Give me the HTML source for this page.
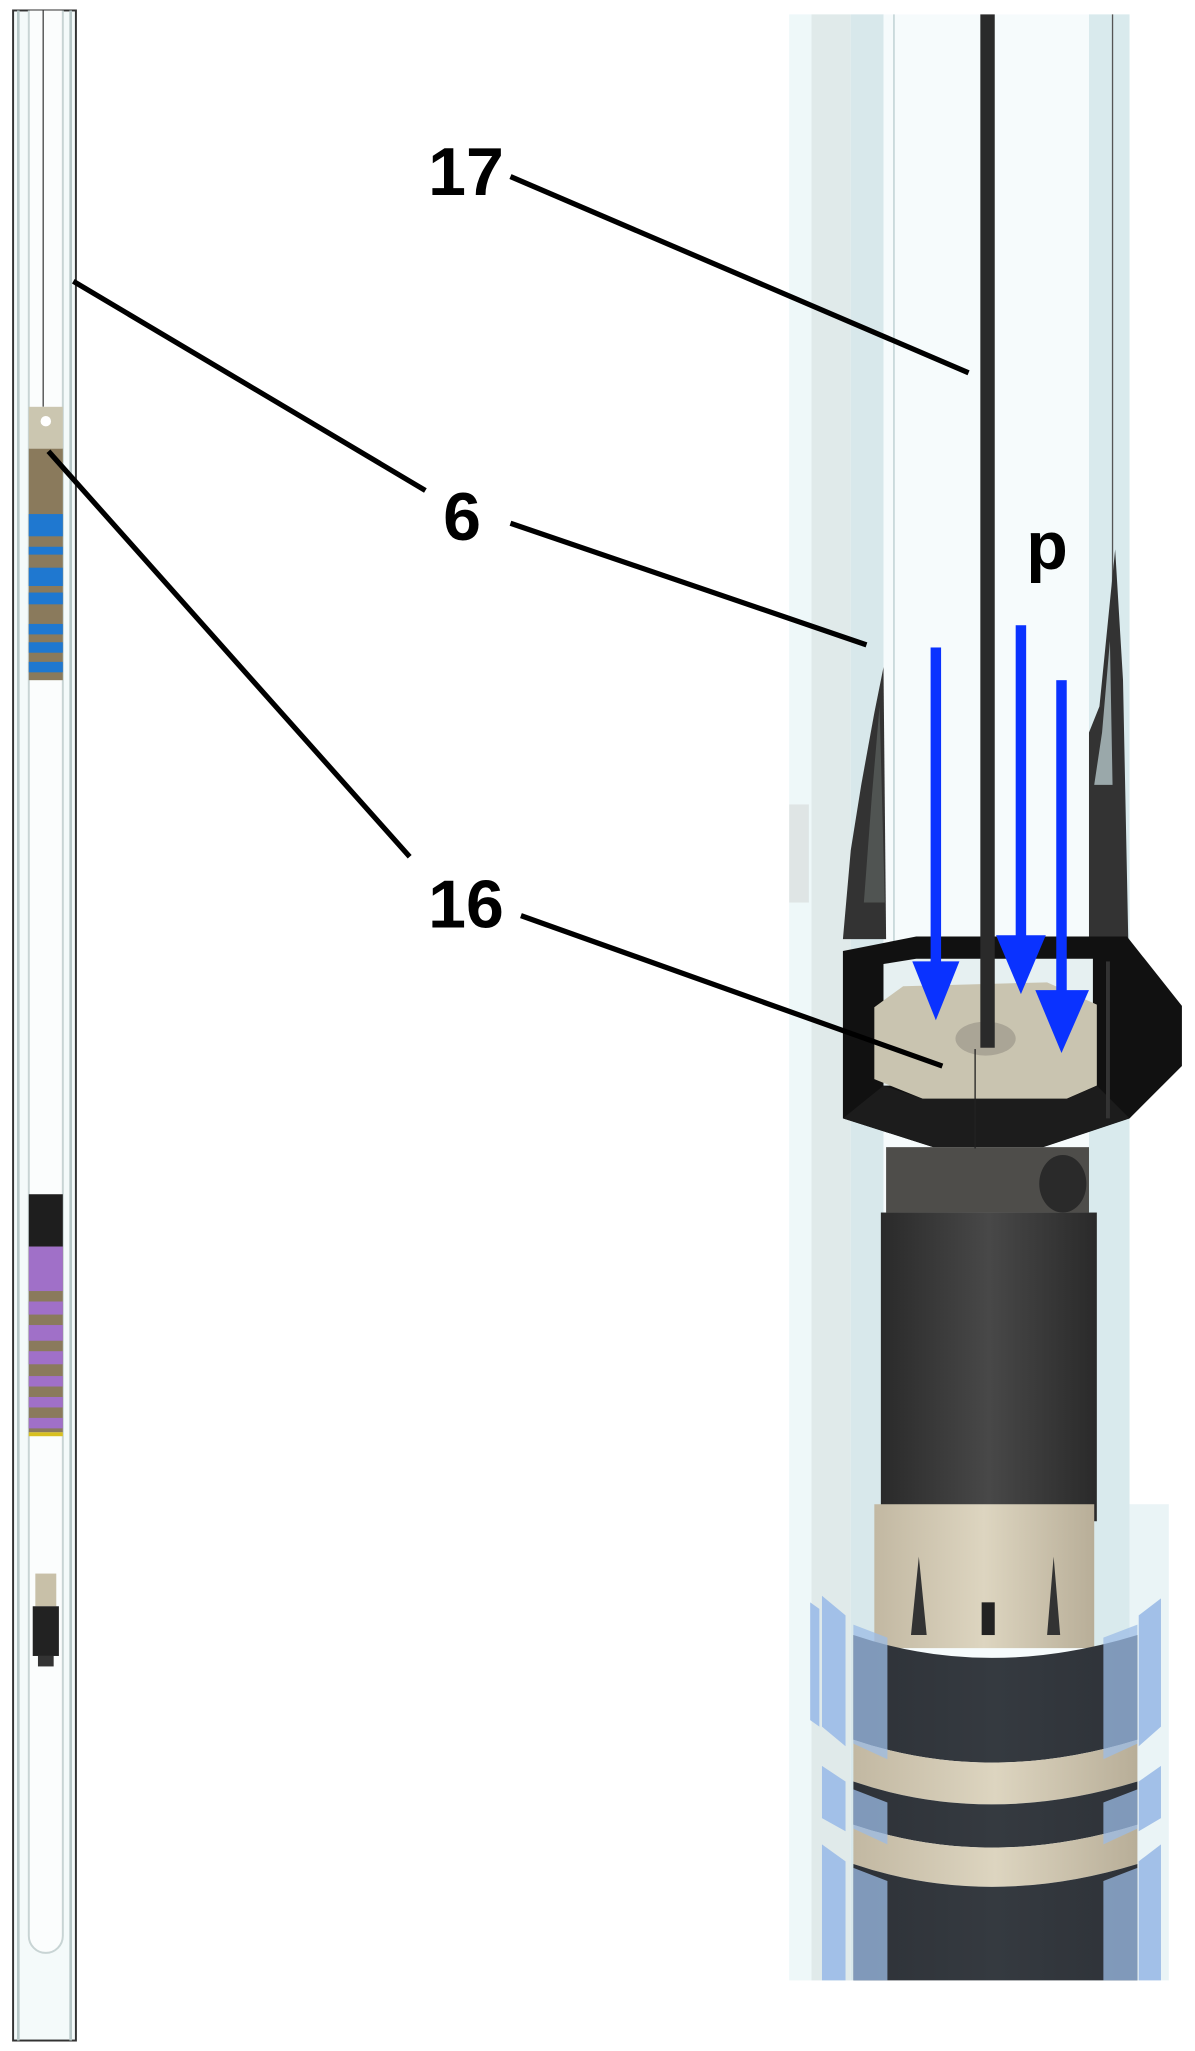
<!DOCTYPE html>
<html><head><meta charset="utf-8"><style>html,body{margin:0;padding:0;background:#fff}svg{display:block}</style></head>
<body>
<svg width="1195" height="2051" viewBox="0 0 913 1568" preserveAspectRatio="none" xmlns="http://www.w3.org/2000/svg">
<defs>
<linearGradient id="cyl" x1="0" x2="1"><stop offset="0" stop-color="#2a2a2a"/><stop offset="0.5" stop-color="#484848"/><stop offset="1" stop-color="#2a2a2a"/></linearGradient>
<linearGradient id="beige" x1="0" x2="1"><stop offset="0" stop-color="#c2b8a2"/><stop offset="0.5" stop-color="#ddd5c0"/><stop offset="1" stop-color="#b8ae98"/></linearGradient>
<linearGradient id="dband" x1="0" x2="1"><stop offset="0" stop-color="#2e3238"/><stop offset="0.5" stop-color="#353a40"/><stop offset="1" stop-color="#2e3238"/></linearGradient>
</defs>
<!-- left tube -->
<rect x="10" y="8" width="48" height="1552" fill="#f4fafa" stroke="#333" stroke-width="1.5"/>
<line x1="14" y1="8" x2="14" y2="1560" stroke="#b8c8c8" stroke-width="2"/>
<line x1="54" y1="8" x2="54" y2="1560" stroke="#b8c8c8" stroke-width="2"/>
<path d="M22 8 V1480 a13 13 0 0 0 26 0 V8" fill="#fbfdfd" stroke="#c8d4d4" stroke-width="1.5"/>
<line x1="33" y1="8" x2="33" y2="311" stroke="#444" stroke-width="1"/>
<rect x="22" y="311" width="26" height="32" fill="#cbc6b0"/>
<circle cx="35" cy="322" r="4" fill="#fff"/>
<rect x="22" y="343" width="26" height="177" fill="#8a7a5c"/>
<g fill="#1f78d0">
<rect x="22" y="393" width="26" height="17"/><rect x="22" y="418" width="26" height="6"/>
<rect x="22" y="434" width="26" height="14"/><rect x="22" y="453" width="26" height="9"/>
<rect x="22" y="477" width="26" height="8"/><rect x="22" y="491" width="26" height="8"/>
<rect x="22" y="506" width="26" height="8"/></g>
<rect x="22" y="913" width="26" height="40" fill="#1e1e1e"/>
<rect x="22" y="953" width="26" height="142" fill="#8a7a5c"/>
<g fill="#a070c8">
<rect x="22" y="953" width="26" height="34"/><rect x="22" y="995" width="26" height="10"/>
<rect x="22" y="1013" width="26" height="12"/><rect x="22" y="1033" width="26" height="10"/>
<rect x="22" y="1052" width="26" height="8"/><rect x="22" y="1068" width="26" height="8"/><rect x="22" y="1084" width="26" height="8"/></g>
<rect x="22" y="1095" width="26" height="3" fill="#d8c020"/>
<rect x="27" y="1203" width="16" height="25" fill="#c8c0a8"/>
<rect x="25" y="1228" width="20" height="38" fill="#222"/>
<rect x="29" y="1266" width="12" height="8" fill="#333"/>
<!-- right tube -->
<rect x="603" y="11" width="260" height="1503" fill="#f6fbfc"/>
<rect x="863" y="1150" width="30" height="364" fill="#eaf4f6"/>
<rect x="603" y="11" width="17" height="1503" fill="#eef8f9"/>
<rect x="620" y="11" width="30" height="1503" fill="#e0eaea"/>
<rect x="650" y="11" width="25" height="1503" fill="#d8e8eb"/>
<line x1="683" y1="11" x2="683" y2="720" stroke="#b8ccce" stroke-width="1"/>
<rect x="832" y="11" width="31" height="1503" fill="#d9eaed"/>
<line x1="850" y1="11" x2="850" y2="720" stroke="#555" stroke-width="1"/>
<rect x="603" y="615" width="15" height="75" fill="#dfe5e5"/>
<!-- side shadows -->
<path d="M644 718 L650 650 L658 600 L668 545 L675 510 L677 718 Z" fill="#333"/>
<path d="M660 690 L666 610 L672 540 L676 690 Z" fill="#505452"/>
<path d="M832 718 L832 560 L840 540 L846 480 L852 420 L858 520 L862 718 Z" fill="#333"/>
<path d="M836 600 L842 560 L848 490 L850 600 Z" fill="#9aa8aa"/>
<!-- ring -->
<path d="M644 727 L700 716 L861 716 L903 769 L903 815 L863 855 L797 877 L713 877 L644 855 Z" fill="#111"/>
<path d="M675 737 L700 733 L835 733 L835 830 L675 830 Z" fill="#e6f0f1"/>
<path d="M668 770 L690 754 L800 751 L838 768 L838 830 L815 840 L705 840 L668 825 Z" fill="#c9c4b0"/>
<ellipse cx="753" cy="794" rx="23" ry="13" fill="#aaa596"/>
<path d="M644 855 L675 830 L705 840 L815 840 L838 830 L863 855 L797 877 L713 877 Z" fill="#1c1c1c"/>
<rect x="845" y="735" width="3" height="120" fill="#333"/>
<!-- dark cylinder -->
<rect x="677" y="877" width="155" height="50" fill="#4e4d4a"/>
<ellipse cx="812" cy="905" rx="18" ry="22" fill="#2a2a2a"/>
<rect x="673" y="927" width="165" height="236" fill="url(#cyl)"/>
<rect x="668" y="1150" width="168" height="110" fill="url(#beige)"/>
<path d="M702 1190 L708 1250 L696 1250 Z M805 1190 L810 1250 L800 1250 Z" fill="#333"/>
<rect x="750" y="1225" width="10" height="25" fill="#222"/>
<!-- bands -->
<path d="M652 1250 Q755 1285 869 1250 L869 1330 Q755 1365 652 1330 Z" fill="url(#dband)"/>
<path d="M652 1330 Q755 1365 869 1330 L869 1362 Q755 1397 652 1362 Z" fill="url(#beige)"/>
<path d="M652 1362 Q755 1397 869 1362 L869 1395 Q755 1430 652 1395 Z" fill="url(#dband)"/>
<path d="M652 1395 Q755 1430 869 1395 L869 1425 Q755 1460 652 1425 Z" fill="url(#beige)"/>
<path d="M652 1425 Q755 1460 869 1425 L869 1514 L652 1514 Z" fill="url(#dband)"/>
<!-- blue tiles -->
<g fill="#a2c0e8">
<path d="M628 1220 L646 1235 L646 1335 L628 1320 Z"/><path d="M870 1235 L887 1222 L887 1320 L870 1335 Z"/>
<path d="M628 1350 L646 1362 L646 1400 L628 1390 Z"/><path d="M870 1362 L887 1350 L887 1390 L870 1400 Z"/>
<path d="M628 1410 L646 1423 L646 1514 L628 1514 Z"/><path d="M870 1423 L887 1410 L887 1514 L870 1514 Z"/>
<path d="M619 1225 L626 1230 L626 1320 L619 1315 Z"/>
</g>
<g fill="#9cbce6" opacity="0.75">
<path d="M652 1242 L678 1252 L678 1345 L652 1333 Z"/><path d="M843 1252 L869 1242 L869 1333 L843 1345 Z"/>
<path d="M652 1368 L678 1378 L678 1410 L652 1398 Z"/><path d="M843 1378 L869 1368 L869 1398 L843 1410 Z"/>
<path d="M652 1428 L678 1438 L678 1514 L652 1514 Z"/><path d="M843 1438 L869 1428 L869 1514 L843 1514 Z"/>
</g>
<!-- wire -->
<rect x="749" y="11" width="11" height="790" fill="#2a2a2a"/>
<line x1="745" y1="802" x2="745" y2="878" stroke="#222" stroke-width="1"/>
<!-- arrows -->
<g fill="#0a32ff">
<rect x="711" y="495" width="8" height="245"/><path d="M697 735 L733 735 L715 780 Z"/>
<rect x="776" y="478" width="8" height="240"/><path d="M761 715 L799 715 L780 760 Z"/>
<rect x="807" y="520" width="8" height="240"/><path d="M791 757 L832 757 L811 805 Z"/>
</g>
<!-- leaders -->
<g stroke="#000" stroke-width="4" stroke-linecap="butt">
<line x1="390" y1="135" x2="740" y2="285"/>
<line x1="56" y1="215" x2="325" y2="375"/>
<line x1="390" y1="400" x2="662" y2="493"/>
<line x1="37" y1="345" x2="313" y2="655"/>
<line x1="398" y1="700" x2="720" y2="815"/>
</g>
<g font-family="Liberation Sans, sans-serif" font-weight="bold" font-size="52" fill="#000" text-anchor="middle">
<text x="356" y="149">17</text>
<text x="353" y="413">6</text>
<text x="356" y="709">16</text>
<text x="800" y="435">p</text>
</g>
</svg>
</body></html>
